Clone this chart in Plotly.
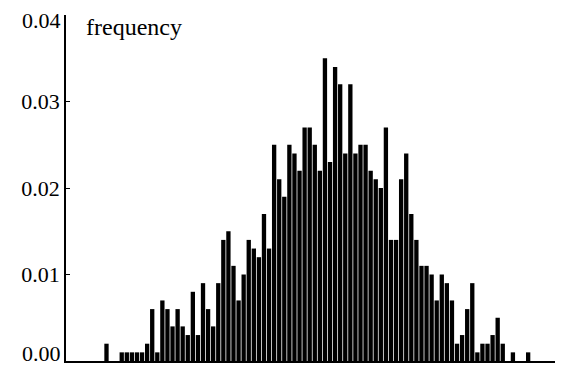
import plotly.graph_objects as go

# histogram bins (index of bin) and relative frequencies
bins = list(range(91))
freq = [
    0.002, 0.000, 0.000, 0.001, 0.001, 0.001, 0.001, 0.001, 0.002, 0.006,
    0.001, 0.007, 0.006, 0.004, 0.006, 0.004, 0.003, 0.008, 0.003, 0.009,
    0.006, 0.004, 0.009, 0.014, 0.015, 0.011, 0.007, 0.010, 0.014, 0.013,
    0.012, 0.017, 0.013, 0.025, 0.021, 0.019, 0.025, 0.024, 0.022, 0.027,
    0.027, 0.025, 0.022, 0.035, 0.023, 0.034, 0.032, 0.024, 0.032, 0.024,
    0.025, 0.025, 0.022, 0.021, 0.020, 0.027, 0.014, 0.014, 0.021, 0.024,
    0.017, 0.014, 0.011, 0.011, 0.010, 0.007, 0.010, 0.009, 0.007, 0.002,
    0.003, 0.006, 0.009, 0.001, 0.002, 0.002, 0.003, 0.005, 0.002, 0.000,
    0.001, 0.000, 0.000, 0.001, 0.000, 0.000, 0.000, 0.000, 0.000, 0.000,
    0.001,
]
y_ticks = [0.00, 0.01, 0.02, 0.03, 0.04]
y_tick_labels = ["0.00", "0.01", "0.02", "0.03", "0.04"]

FONT = "Liberation Serif"
FS = 22

fig = go.Figure(
    go.Bar(x=bins, y=freq, marker=dict(color="black", line=dict(width=0)))
)

# the page body has an 8px default margin, so the figure is sized to fit
fig.update_layout(
    width=555,
    height=359,
    margin=dict(l=58, r=0, t=7, b=6, autoexpand=False),
    paper_bgcolor="white",
    plot_bgcolor="white",
    bargap=0.15,
    showlegend=False,
    font=dict(family=FONT, size=FS, color="black"),
)

fig.update_xaxes(
    range=[-7.97, 89.86],
    showline=True,
    linecolor="black",
    linewidth=1.5,
    showticklabels=False,
    ticks="",
    showgrid=False,
    zeroline=False,
    automargin=False,
)

# inner tick labels drawn by the axis; the two end labels sit just inside
# the axis ends (as in the reference), so they are placed as annotations
inner_text = [t if 0 < v < max(y_ticks) else "" for v, t in zip(y_ticks, y_tick_labels)]
fig.update_yaxes(
    range=[0, 0.04],
    tickvals=y_ticks,
    ticktext=inner_text,
    ticks="inside",
    ticklen=4,
    tickwidth=1,
    tickcolor="black",
    showline=True,
    linecolor="black",
    linewidth=1.5,
    showgrid=False,
    zeroline=False,
    automargin=False,
    tickfont=dict(family=FONT, size=FS, color="black"),
)

for v, t in zip(y_ticks, y_tick_labels):
    if v == min(y_ticks):
        fig.add_annotation(text=t, xref="paper", yref="y", x=0, y=v,
                           xanchor="right", yanchor="middle", xshift=-3, yshift=8,
                           showarrow=False, font=dict(family=FONT, size=FS, color="black"))
    elif v == max(y_ticks):
        fig.add_annotation(text=t, xref="paper", yref="y", x=0, y=v,
                           xanchor="right", yanchor="middle", xshift=-3, yshift=-5,
                           showarrow=False, font=dict(family=FONT, size=FS, color="black"))

fig.add_annotation(
    text="frequency",
    xref="paper", yref="paper",
    x=0.036, y=0.965,
    xanchor="left", yanchor="middle",
    showarrow=False,
    font=dict(family=FONT, size=24, color="black"),
)

fig.write_html("out.html")
